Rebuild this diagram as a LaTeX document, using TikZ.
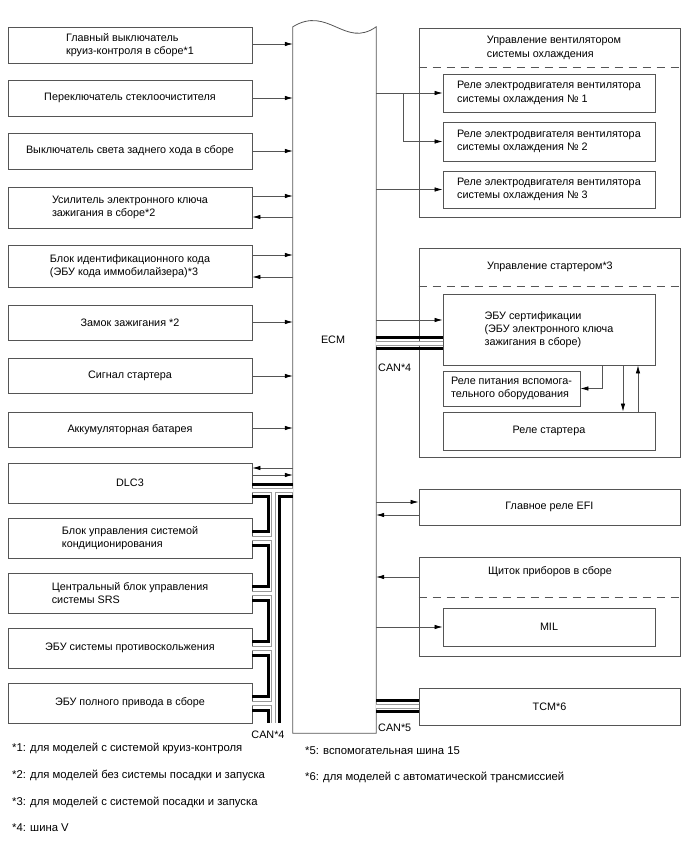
\documentclass[tikz,border=0pt]{standalone}
\usepackage{fontspec}
\setmainfont{Liberation Sans}
\setsansfont{Liberation Sans}
\usetikzlibrary{arrows.meta,positioning,calc}
\definecolor{edge}{HTML}{555555}
\definecolor{shell}{HTML}{9A9A9A}

\begin{document}
\begin{tikzpicture}[
  x=1pt,y=-1pt,
  font=\sffamily\fontsize{10.8}{13.5}\selectfont,
  unit/.style={draw=edge, line width=0.8pt, inner sep=0pt, align=left, minimum width=244},
  grp/.style={draw=edge, line width=0.8pt, inner sep=0pt, minimum width=261},
  inbox/.style={draw=edge, line width=0.8pt, inner sep=0pt, align=left, minimum width=212},
  lbl/.style={inner sep=0pt, align=left},
  note/.style={inner sep=0pt, anchor=west, font=\sffamily\fontsize{11.3}{13}\selectfont},
  sep/.style={draw=edge, line width=0.8pt, dash pattern=on 8pt off 6pt},
  sig/.style={-{Latex[length=8pt,width=4.5pt,color=black]}, line width=0.7pt, draw=edge},
  canwire/.style={line width=3pt, black},
  canshell/.style={line width=5pt, shell},
  cancore/.style={line width=3pt, white},
]
\useasboundingbox (0,0) rectangle (688,852);

% ECM
\node[inner sep=0pt, minimum width=83, minimum height=706] (ecm) at (334.5,380) {};
\draw[draw=edge, line width=0.8pt] (ecm.north west) .. controls (328,5) and (345,49) .. (ecm.north east) -- (ecm.south east) -- (ecm.south west) -- cycle;
\node[lbl] (ecmlbl) at (333,340) {ECM};

% left units
\node[unit, minimum height=36] (cruise) at (130,45) {Главный выключатель\\круиз-контроля в сборе*1};
\node[unit, minimum height=36] (wiper) at (130,98) {Переключатель стеклоочистителя};
\node[unit, minimum height=36] (backup) at (130,151) {Выключатель света заднего хода в сборе};
\node[unit, minimum height=41] (keyamp) at (130,207.5) {Усилитель электронного ключа\\зажигания в сборе*2};
\node[unit, minimum height=42] (immo) at (130,266) {Блок идентификационного кода\\(ЭБУ кода иммобилайзера)*3};
\node[unit, minimum height=35] (ignsw) at (130,322.5) {Замок зажигания *2};
\node[unit, minimum height=35] (stasig) at (130,375.5) {Сигнал стартера};
\node[unit, minimum height=35] (batt) at (130,429.5) {Аккумуляторная батарея};
\node[unit, minimum height=40] (dlc) at (130,483) {DLC3};
\node[unit, minimum height=40] (aircon) at (130,538) {Блок управления системой\\кондиционирования};
\node[unit, minimum height=40] (srs) at (130,593) {Центральный блок управления\\системы SRS};
\node[unit, minimum height=40] (abs) at (130,648) {ЭБУ системы противоскольжения};
\node[unit, minimum height=40] (awd) at (130,703) {ЭБУ полного привода в сборе};

\foreach \u/\y in {cruise/44,wiper/98,backup/151,keyamp/196,immo/255,ignsw/322,stasig/376,batt/428,dlc/475}
  {\draw[sig] (\u.east |- 0,\y) -- (ecm.west |- 0,\y);}
\foreach \u/\y in {keyamp/217,immo/277,dlc/468}
  {\draw[sig] (ecm.west |- 0,\y) -- (\u.east |- 0,\y);}

% CAN*4, left side
\draw[canshell] (dlc.east |- 0,490) -- (ecm.west |- 0,490) (273.5,490) -- (273.5,723)
  (aircon.east |- 0,538) -- (273.5,538) (srs.east |- 0,593) -- (273.5,593)
  (abs.east |- 0,648) -- (273.5,648) (awd.east |- 0,703) -- (273.5,703);
\draw[cancore] (dlc.east |- 0,490) -- (ecm.west |- 0,490) (273.5,490) -- (273.5,723)
  (aircon.east |- 0,538) -- (273.5,538) (srs.east |- 0,593) -- (273.5,593)
  (abs.east |- 0,648) -- (273.5,648) (awd.east |- 0,703) -- (273.5,703);
\draw[canwire] (dlc.east |- 0,484) -- (ecm.west |- 0,484);
\draw[canwire] (ecm.west |- 0,496) -| (279,723);
\draw[canwire] (dlc.east |- 0,496) -| (268,531) -- (aircon.east |- 0,531);
\draw[canwire] (aircon.east |- 0,545) -| (268,586) -- (srs.east |- 0,586);
\draw[canwire] (srs.east |- 0,600) -| (268,641) -- (abs.east |- 0,641);
\draw[canwire] (abs.east |- 0,655) -| (268,696) -- (awd.east |- 0,696);
\draw[canwire] (awd.east |- 0,710) -| (268,723);
\node[lbl] (can4a) at (268,735) {CAN*4};

% cooling fan control
\node[grp, minimum height=189] (fan) at (549.5,122.5) {};
\node[lbl] (fantitle) at (554,48) {Управление вентилятором\\системы охлаждения};
\draw[sep] (fan.west |- 0,67) -- (fan.east |- 0,67);
\node[inbox, minimum height=38] (fan1) at (549,93) {Реле электродвигателя вентилятора\\системы охлаждения № 1};
\node[inbox, minimum height=39] (fan2) at (549,141.5) {Реле электродвигателя вентилятора\\системы охлаждения № 2};
\node[inbox, minimum height=37] (fan3) at (549,189.5) {Реле электродвигателя вентилятора\\системы охлаждения № 3};
\coordinate (fork) at (403,93);
\draw[sig] (ecm.east |- fan1.west) -- (fan1.west);
\draw[sig] (fork) |- (fan2.west);
\draw[sig] (ecm.east |- fan3.west) -- (fan3.west);

% starter control
\node[grp, minimum height=209] (strt) at (549.5,352.5) {};
\node[lbl] (strttitle) at (550,267) {Управление стартером*3};
\draw[sep] (strt.west |- 0,286) -- (strt.east |- 0,286);
\node[inbox, minimum height=71, font=\sffamily\fontsize{10.8}{12.8}\selectfont] (cert) at (549,329.5) {ЭБУ сертификации\\(ЭБУ электронного ключа\\зажигания в сборе)};
\node[inbox, minimum width=137, minimum height=35, font=\sffamily\fontsize{10.8}{12.8}\selectfont] (accrly) at (511.5,388.5) {Реле питания вспомога-\\тельного оборудования};
\node[inbox, minimum height=38] (strtrly) at (549,431) {Реле стартера};
\draw[sig] (ecm.east |- 0,320) -- (cert.west |- 0,320);
\draw[sig] (cert.south -| 602,0) |- (accrly.east);
\draw[sig] (cert.south -| 623,0) -- (strtrly.north -| 623,0);
\draw[sig] (strtrly.north -| 638,0) -- (cert.south -| 638,0);
\draw[canshell] (ecm.east |- 0,343) -- (cert.west |- 0,343);
\draw[cancore] (ecm.east |- 0,343) -- (cert.west |- 0,343);
\draw[canwire] (ecm.east |- 0,337.5) -- (cert.west |- 0,337.5);
\draw[canwire] (ecm.east |- 0,348.5) -- (cert.west |- 0,348.5);
\node[lbl, anchor=west] (can4b) at (378,368) {CAN*4};

% EFI main relay
\node[grp, minimum height=36] (efi) at (549.5,507) {Главное реле EFI};
\draw[sig] (ecm.east |- 0,502) -- (efi.west |- 0,502);
\draw[sig] (efi.west |- 0,515) -- (ecm.east |- 0,515);

% combination meter
\node[grp, minimum height=99] (meter) at (549.5,606.5) {};
\node[lbl] (metertitle) at (550,572) {Щиток приборов в сборе};
\draw[sep] (meter.west |- 0,597) -- (meter.east |- 0,597);
\node[inbox, minimum height=38] (mil) at (549,627) {MIL};
\draw[sig] (meter.west |- 0,577) -- (ecm.east |- 0,577);
\draw[sig] (ecm.east |- mil.west) -- (mil.west);

% TCM
\node[grp, minimum height=37] (tcm) at (549.5,706.5) {TCM*6};
\draw[canshell] (ecm.east |- 0,706) -- (tcm.west |- 0,706);
\draw[cancore] (ecm.east |- 0,706) -- (tcm.west |- 0,706);
\draw[canwire] (ecm.east |- 0,700.5) -- (tcm.west |- 0,700.5);
\draw[canwire] (ecm.east |- 0,711.5) -- (tcm.west |- 0,711.5);
\node[lbl, anchor=west] (can5) at (378,728) {CAN*5};

% notes
\node[note] (fn1) at (12,748) {*1: для моделей с системой круиз-контроля};
\node[note] (fn2) at (12,775) {*2: для моделей без системы посадки и запуска};
\node[note] (fn3) at (12,802) {*3: для моделей с системой посадки и запуска};
\node[note] (fn4) at (12,828) {*4: шина V};
\node[note] (fn5) at (305,751) {*5: вспомогательная шина 15};
\node[note] (fn6) at (305,777) {*6: для моделей с автоматической трансмиссией};

\end{tikzpicture}
\end{document}
